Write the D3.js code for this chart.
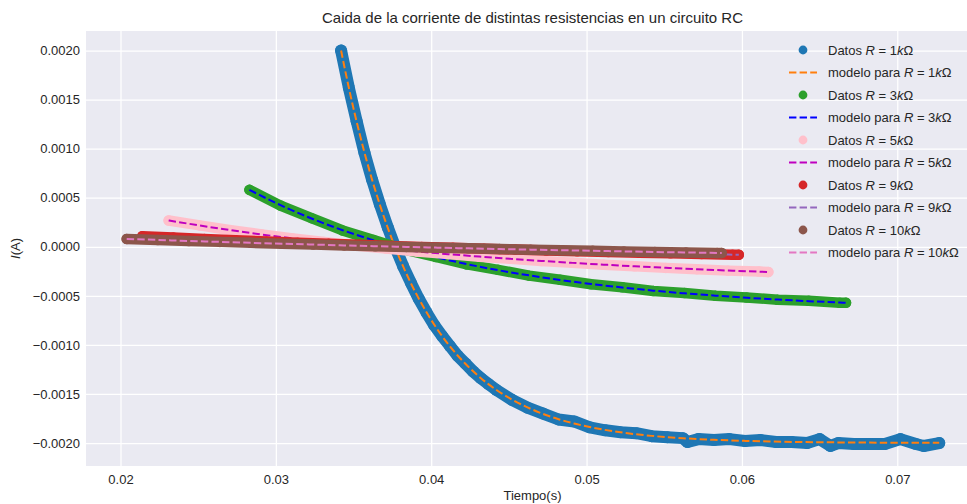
<!DOCTYPE html>
<html>
<head>
<meta charset="utf-8">
<script src="https://cdnjs.cloudflare.com/ajax/libs/d3/7.8.5/d3.min.js"></script>
<style>
body { margin: 0; background: #fff; }
svg { display: block; font-family: "Liberation Sans", Arial, sans-serif; }
</style>
</head>
<body>
<svg></svg>
<script>
// resistencias (kOhm)
var resistencias = [1, 3, 5, 9, 10];

// R = 1k
var t1 = [0.0342, 0.0347, 0.0352, 0.0357, 0.0362, 0.0367, 0.0372, 0.0377, 0.0382, 0.0387,
  0.0392, 0.0397, 0.0402, 0.0407, 0.0412, 0.0417, 0.0422, 0.0427, 0.0432, 0.0437,
  0.0442, 0.0452, 0.0462, 0.0472, 0.0482, 0.0492, 0.0502, 0.0512, 0.0522, 0.0532,
  0.0542, 0.0552, 0.0562, 0.0565, 0.0572, 0.0582, 0.0592, 0.0602, 0.0612, 0.0622,
  0.0632, 0.0642, 0.0650, 0.0657, 0.0662, 0.0672, 0.0682, 0.0692, 0.0702, 0.0712,
  0.0717, 0.0727];
var datos1 = [0.00200, 0.00162, 0.00128, 0.00096, 0.00068, 0.00043, 0.00020, -0.00001, -0.00020, -0.00037,
  -0.00053, -0.00067, -0.00080, -0.00091, -0.00101, -0.00111, -0.00119, -0.00127, -0.00134, -0.00140,
  -0.00146, -0.00156, -0.00164, -0.00170, -0.00176, -0.00178, -0.00184, -0.00187, -0.00189, -0.00190,
  -0.00193, -0.00194, -0.00195, -0.00199, -0.00196, -0.00197, -0.00196, -0.00198, -0.00197, -0.00199,
  -0.00199, -0.00200, -0.00196, -0.00203, -0.00200, -0.00201, -0.00201, -0.00201, -0.00196, -0.00201,
  -0.00203, -0.00200];
var tm1 = [0.0342, 0.0347, 0.0352, 0.0357, 0.0362, 0.0367, 0.0372, 0.0377, 0.0382, 0.0387,
  0.0392, 0.0397, 0.0402, 0.0407, 0.0412, 0.0417, 0.0422, 0.0427, 0.0432, 0.0437,
  0.0442, 0.0452, 0.0462, 0.0472, 0.0482, 0.0492, 0.0502, 0.0522, 0.0542, 0.0562,
  0.0582, 0.0602, 0.0627, 0.0652, 0.0677, 0.0702, 0.0727];
var modelo1 = [0.00200, 0.001619, 0.001275, 0.000963, 0.000681, 0.000426, 0.000195, -0.000014, -0.000203, -0.000374,
  -0.000528, -0.000668, -0.000795, -0.00091, -0.001014, -0.001108, -0.001192, -0.001269, -0.001339, -0.001402,
  -0.001459, -0.001557, -0.001637, -0.001703, -0.001757, -0.001801, -0.001837, -0.001891, -0.001927, -0.001951,
  -0.001967, -0.001978, -0.001987, -0.001992, -0.001995, -0.001997, -0.001998];

// R = 3k
var t3 = [0.0283, 0.0303, 0.0323, 0.0343, 0.0363, 0.0383, 0.0403, 0.0423, 0.0443, 0.0463,
  0.0483, 0.0503, 0.0523, 0.0543, 0.0563, 0.0583, 0.0603, 0.0623, 0.0643, 0.0663, 0.0667];
var datos3 = [0.00058, 0.000420, 0.000292, 0.000166, 0.000068, -0.000030, -0.000104, -0.000180, -0.000235, -0.000294,
  -0.000336, -0.000382, -0.000412, -0.000450, -0.000471, -0.000500, -0.000516, -0.000540, -0.000551, -0.000570, -0.000571];
var modelo3 = [0.00058, 0.000424, 0.000288, 0.000169, 0.000065, -0.000027, -0.000107, -0.000177, -0.000238, -0.000291,
  -0.000338, -0.000379, -0.000415, -0.000447, -0.000474, -0.000498, -0.000519, -0.000538, -0.000554, -0.000568, -0.000571];

// R = 5k
var t5 = [0.0231, 0.0251, 0.0271, 0.0291, 0.0311, 0.0331, 0.0351, 0.0371, 0.0391, 0.0411,
  0.0431, 0.0451, 0.0471, 0.0491, 0.0511, 0.0531, 0.0551, 0.0571, 0.0591, 0.0611, 0.0617];
var datos5 = [0.000268, 0.000218, 0.000168, 0.000126, 0.000084, 0.000049, 0.000012, -0.000017, -0.000049, -0.000074,
  -0.000101, -0.000122, -0.000145, -0.000163, -0.000183, -0.000198, -0.000215, -0.000228, -0.000243, -0.000253, -0.000257];
var modelo5 = [0.000268, 0.000217, 0.000169, 0.000125, 0.000085, 0.000048, 0.000013, -0.000018, -0.000048, -0.000075,
  -0.0001, -0.000123, -0.000144, -0.000164, -0.000182, -0.000199, -0.000214, -0.000229, -0.000242, -0.000254, -0.000257];

// R = 9k
var t9 = [0.0214, 0.0234, 0.0254, 0.0274, 0.0294, 0.0314, 0.0334, 0.0354, 0.0374, 0.0394,
  0.0414, 0.0434, 0.0454, 0.0474, 0.0494, 0.0514, 0.0534, 0.0554, 0.0574, 0.0594, 0.0598];
var datos9 = [0.000108, 0.000094, 0.00008, 0.000067, 0.000054, 0.000042, 0.000031, 0.00002, 0.000009, -0.000001,
  -0.00001, -0.00002, -0.000028, -0.000037, -0.000045, -0.000053, -0.00006, -0.000067, -0.000074, -0.00008, -0.000081];
var modelo9 = [0.000108, 0.000094, 0.00008, 0.000067, 0.000054, 0.000042, 0.000031, 0.00002, 0.000009, -0.000001,
  -0.00001, -0.00002, -0.000028, -0.000037, -0.000045, -0.000053, -0.00006, -0.000067, -0.000074, -0.00008, -0.000081];

// R = 10k
var t10 = [0.0204, 0.0224, 0.0244, 0.0264, 0.0284, 0.0304, 0.0324, 0.0344, 0.0364, 0.0384,
  0.0404, 0.0424, 0.0444, 0.0464, 0.0484, 0.0504, 0.0524, 0.0544, 0.0564, 0.0584, 0.0587];
var datos10 = [0.00008, 0.00007, 0.000059, 0.00005, 0.00004, 0.000031, 0.000023, 0.000014, 0.000006, -0.000001,
  -0.000009, -0.000016, -0.000023, -0.000029, -0.000035, -0.000041, -0.000047, -0.000053, -0.000058, -0.000063, -0.000064];
var modelo10 = [0.00008, 0.00007, 0.000059, 0.00005, 0.00004, 0.000031, 0.000023, 0.000014, 0.000006, -0.000001,
  -0.000009, -0.000016, -0.000023, -0.000029, -0.000035, -0.000041, -0.000047, -0.000053, -0.000058, -0.000063, -0.000064];

var xTicks = [0.02, 0.03, 0.04, 0.05, 0.06, 0.07];
var yTicks = [-0.002, -0.0015, -0.001, -0.0005, 0, 0.0005, 0.001, 0.0015, 0.002];

var coloresDatos = ["#1f77b4", "#2ca02c", "pink", "#d62728", "#8c564b"];
var coloresModelo = ["#ff7f0e", "blue", "#bf00bf", "#9467bd", "#e377c2"];

var series = [
  { t: t1, datos: datos1, tm: tm1, modelo: modelo1 },
  { t: t3, datos: datos3, tm: t3, modelo: modelo3 },
  { t: t5, datos: datos5, tm: t5, modelo: modelo5 },
  { t: t9, datos: datos9, tm: t9, modelo: modelo9 },
  { t: t10, datos: datos10, tm: t10, modelo: modelo10 }
];

var width = 967;
var height = 504;
var plot = { left: 86, right: 979, top: 31, bottom: 466 };
var textColor = "#262626";

var svg = d3.select("svg").attr("width", width).attr("height", height);

var xScale = d3.scaleLinear().domain([0.01778, 0.07526]).range([plot.left, plot.right]);
var yScale = d3.scaleLinear().domain([-0.002234, 0.002199]).range([plot.bottom, plot.top]);

svg.append("defs").append("clipPath").attr("id", "clip")
  .append("rect")
  .attr("x", plot.left).attr("y", plot.top)
  .attr("width", plot.right - plot.left).attr("height", plot.bottom - plot.top);

svg.append("rect")
  .attr("x", plot.left).attr("y", plot.top)
  .attr("width", plot.right - plot.left).attr("height", plot.bottom - plot.top)
  .attr("fill", "#eaeaf2");

// grid
svg.append("g")
  .attr("transform", "translate(0," + plot.bottom + ")")
  .call(d3.axisBottom(xScale).tickValues(xTicks).tickSize(-(plot.bottom - plot.top)).tickFormat(d3.format(".2f")).tickPadding(9))
  .call(g => g.select(".domain").remove())
  .call(g => g.selectAll("line").attr("stroke", "#fff").attr("stroke-width", 1.25))
  .call(g => g.selectAll("text").attr("fill", textColor).attr("font-size", 13).attr("font-family", null));

svg.append("g")
  .attr("transform", "translate(" + plot.left + ",0)")
  .call(d3.axisLeft(yScale).tickValues(yTicks).tickSize(-(plot.right - plot.left)).tickFormat(d3.format(".4f")).tickPadding(6))
  .call(g => g.select(".domain").remove())
  .call(g => g.selectAll("line").attr("stroke", "#fff").attr("stroke-width", 1.25))
  .call(g => g.selectAll("text").attr("fill", textColor).attr("font-size", 13).attr("font-family", null));

var marks = svg.append("g").attr("clip-path", "url(#clip)");

var lineDatos = d3.line().x(d => xScale(d[0])).y(d => yScale(d[1]));
var lineModelo = d3.line().x(d => xScale(d[0])).y(d => yScale(d[1])).curve(d3.curveMonotoneX);

series.forEach(function(s, k) {
  var pts = s.t.map((t, i) => [t, s.datos[i]]);
  var g = marks.append("g");
  // puntos de datos (muy densos en el original)
  g.append("path")
    .attr("d", lineDatos(pts))
    .attr("fill", "none")
    .attr("stroke", coloresDatos[k])
    .attr("stroke-width", k === 0 ? 12 : 10.5)
    .attr("stroke-linejoin", "round")
    .attr("stroke-linecap", "round");
  g.selectAll("circle")
    .data(pts)
    .enter()
    .append("circle")
    .attr("cx", d => xScale(d[0]))
    .attr("cy", d => yScale(d[1]))
    .attr("r", k === 0 ? 6 : 5.25)
    .attr("fill", coloresDatos[k]);

  var mpts = s.tm.map((t, i) => [t, s.modelo[i]]);
  marks.append("path")
    .attr("d", lineModelo(mpts))
    .attr("fill", "none")
    .attr("stroke", coloresModelo[k])
    .attr("stroke-width", 2)
    .attr("stroke-dasharray", "7.4,3.2");
});

// title & labels
svg.append("text")
  .attr("x", (plot.left + plot.right) / 2)
  .attr("y", 23)
  .attr("text-anchor", "middle")
  .attr("font-size", 15)
  .attr("fill", textColor)
  .text("Caida de la corriente de distintas resistencias en un circuito RC");

svg.append("text")
  .attr("x", (plot.left + plot.right) / 2)
  .attr("y", 500)
  .attr("text-anchor", "middle")
  .attr("font-size", 13)
  .attr("fill", textColor)
  .text("Tiempo(s)");

var ylab = svg.append("text")
  .attr("transform", "translate(20," + ((plot.top + plot.bottom) / 2) + ") rotate(-90)")
  .attr("text-anchor", "middle")
  .attr("font-size", 13)
  .attr("fill", textColor);
ylab.append("tspan").attr("font-style", "italic").text("I");
ylab.append("tspan").text("(A)");

// legend
var legend = svg.append("g");
var rowH = 22.5;
resistencias.forEach(function(r, k) {
  var yD = 50 + rowH * (2 * k);
  var yM = 50 + rowH * (2 * k + 1);

  legend.append("circle")
    .attr("cx", 803).attr("cy", yD).attr("r", 4.4)
    .attr("fill", coloresDatos[k]);
  legend.append("line")
    .attr("x1", 789).attr("x2", 817).attr("y1", yM).attr("y2", yM)
    .attr("stroke", coloresModelo[k])
    .attr("stroke-width", 2)
    .attr("stroke-dasharray", "7.4,3.2");

  [["Datos ", yD], ["modelo para ", yM]].forEach(function(p) {
    var txt = legend.append("text")
      .attr("x", 828).attr("y", p[1] + 4.6)
      .attr("font-size", 13)
      .attr("fill", textColor)
      .style("white-space", "pre");
    txt.append("tspan").text(p[0]);
    txt.append("tspan").attr("font-style", "italic").text("R");
    txt.append("tspan").text(" = " + r);
    txt.append("tspan").attr("font-style", "italic").text("k");
    txt.append("tspan").text("Ω");
  });
});
</script>
</body>
</html>
